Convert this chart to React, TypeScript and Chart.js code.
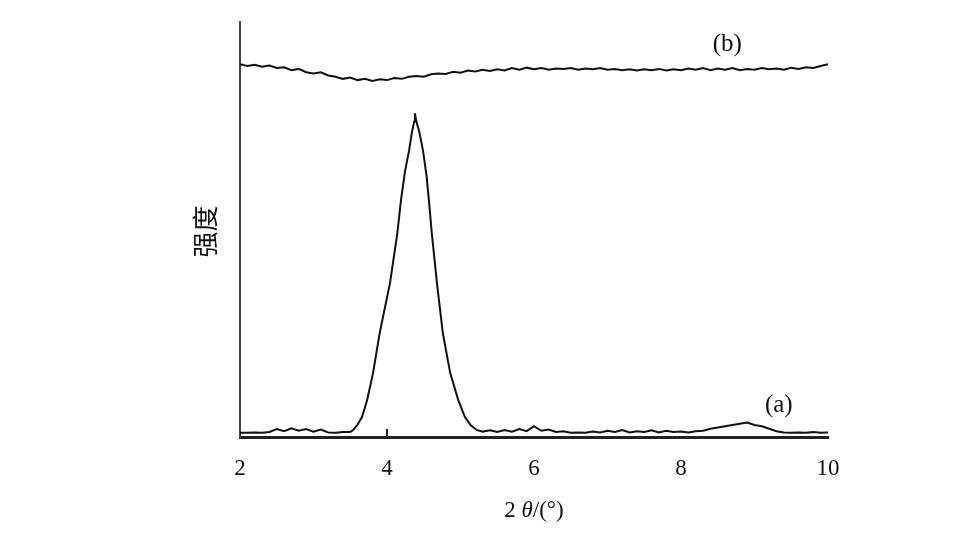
import React, { useEffect, useRef } from "react";
import { Chart, registerables } from "chart.js";

Chart.register(...registerables);

// Curve (a): x positions (2θ, degrees) and intensity
const xA = [
  2.0, 2.1, 2.2, 2.3, 2.4, 2.5, 2.6, 2.7, 2.8, 2.9,
  3.0, 3.1, 3.2, 3.3, 3.4, 3.5, 3.54, 3.6, 3.66, 3.73,
  3.81, 3.9, 4.04, 4.14, 4.19, 4.245, 4.3, 4.34, 4.37, 4.38,
  4.4, 4.44, 4.49, 4.54, 4.57, 4.61, 4.68, 4.76, 4.86, 4.97,
  5.06, 5.14, 5.22, 5.3, 5.4, 5.5, 5.6,
  5.7, 5.8, 5.9, 6.0, 6.1, 6.2, 6.3, 6.4, 6.5, 6.6,
  6.7, 6.8, 6.9, 7.0, 7.1, 7.2, 7.3, 7.4, 7.5, 7.6,
  7.7, 7.8, 7.9, 8.0, 8.1, 8.2, 8.3, 8.4, 8.5, 8.6,
  8.7, 8.8, 8.9, 9.0, 9.1, 9.2, 9.3, 9.4, 9.5, 9.6,
  9.7, 9.8, 9.9, 10.0,
];
const yA = [
  1.0, 1.0, 1.1, 1.0, 1.2, 1.9, 1.4, 2.1, 1.5, 1.9,
  1.3, 1.8, 1.1, 1.0, 1.2, 1.2, 1.7, 3.0, 4.8, 8.9,
  15.4, 25, 37, 49, 57, 64, 69, 73.5, 76, 78,
  76, 73.5, 69, 62.7, 57, 49, 37, 25, 15.4, 8.9,
  4.8, 2.8, 1.7, 1.3, 1.6, 1.2, 1.7,
  1.3, 1.9, 1.4, 2.6, 1.5, 1.8, 1.2, 1.4, 1.0, 1.1,
  1.0, 1.3, 1.1, 1.5, 1.2, 1.7, 1.1, 1.4, 1.2, 1.6,
  1.1, 1.5, 1.2, 1.3, 1.1, 1.4, 1.5, 2.0, 2.3, 2.6,
  2.9, 3.2, 3.5, 2.9, 2.6, 2.0, 1.4, 1.1, 1.0, 1.1,
  1.0, 1.2, 1.0, 1.1,
];

// Curve (b)
const xB = [
  2.0, 2.1, 2.2, 2.3, 2.4, 2.5, 2.6, 2.7, 2.8, 2.9,
  3.0, 3.1, 3.2, 3.3, 3.4, 3.5, 3.6, 3.7, 3.8, 3.9,
  4.0, 4.1, 4.2, 4.3, 4.4, 4.5, 4.6, 4.7, 4.8, 4.9,
  5.0, 5.1, 5.2, 5.3, 5.4, 5.5, 5.6, 5.7, 5.8, 5.9,
  6.0, 6.1, 6.2, 6.3, 6.4, 6.5, 6.6, 6.7, 6.8, 6.9,
  7.0, 7.1, 7.2, 7.3, 7.4, 7.5, 7.6, 7.7, 7.8, 7.9,
  8.0, 8.1, 8.2, 8.3, 8.4, 8.5, 8.6, 8.7, 8.8, 8.9,
  9.0, 9.1, 9.2, 9.3, 9.4, 9.5, 9.6, 9.7, 9.8, 9.9,
  10.0,
];
const yB = [
  89.8, 89.4, 89.7, 89.2, 89.5, 88.9, 89.1, 88.4, 88.7, 87.9,
  87.6, 87.9, 87.1, 86.8, 86.3, 86.6, 86.0, 86.3, 85.8, 86.2,
  86.0, 86.5, 86.3, 86.8, 87.0, 86.8, 87.4, 87.6, 87.5, 88.0,
  87.8, 88.3, 88.1, 88.5, 88.2, 88.6, 88.3, 88.9, 88.5, 89.0,
  88.6, 88.9, 88.5, 88.8, 88.7, 88.9, 88.5, 88.8, 88.6, 88.9,
  88.5, 88.7, 88.4, 88.6, 88.3, 88.6, 88.4, 88.7, 88.3, 88.6,
  88.4, 88.8, 88.5, 88.9, 88.4, 88.8, 88.5, 88.9, 88.4, 88.7,
  88.5, 88.9, 88.6, 88.8, 88.5, 89.0, 88.7, 89.1, 88.9, 89.4,
  89.8,
];

const xTicks = [2, 4, 6, 8, 10];
const innerTickMarks = [4];
const xTitle = ["2 ", "θ", "/(°)"];
const yTitle = "强度";
const curveLabels = [
  { text: "(a)", x: 9.33, y: 7.5 },
  { text: "(b)", x: 8.63, y: 94.5 },
];

const SERIF = '"Liberation Serif", "Times New Roman", serif';

const textPlugin = {
  id: "customText",
  afterDraw(chart: any) {
    const ctx = chart.ctx;
    const xs = chart.scales.x;
    const ys = chart.scales.y;
    const area = chart.chartArea;
    ctx.save();
    // inner tick marks on x axis
    ctx.strokeStyle = "#222";
    ctx.lineWidth = 2;
    innerTickMarks.forEach((v) => {
      const px = Math.round(xs.getPixelForValue(v));
      ctx.beginPath();
      ctx.moveTo(px, area.bottom);
      ctx.lineTo(px, area.bottom - 8);
      ctx.stroke();
    });
    ctx.fillStyle = "#111";
    // curve labels
    ctx.font = `25px ${SERIF}`;
    ctx.textAlign = "center";
    ctx.textBaseline = "middle";
    curveLabels.forEach((l) => {
      ctx.fillText(l.text, xs.getPixelForValue(l.x), ys.getPixelForValue(l.y));
    });
    // x axis title with italic theta
    const cx = (area.left + area.right) / 2;
    const ty = 511;
    const fontN = `23px ${SERIF}`;
    const fontI = `italic 23px ${SERIF}`;
    ctx.font = fontN;
    const w0 = ctx.measureText(xTitle[0]).width;
    const w2 = ctx.measureText(xTitle[2]).width;
    ctx.font = fontI;
    const w1 = ctx.measureText(xTitle[1]).width;
    let sx = cx - (w0 + w1 + w2) / 2;
    ctx.textAlign = "left";
    ctx.font = fontN;
    ctx.fillText(xTitle[0], sx, ty);
    sx += w0;
    ctx.font = fontI;
    ctx.fillText(xTitle[1], sx, ty);
    sx += w1;
    ctx.font = fontN;
    ctx.fillText(xTitle[2], sx, ty);
    // y axis title
    ctx.translate(205, (area.top + area.bottom) / 2 + 2);
    ctx.rotate(-Math.PI / 2);
    ctx.textAlign = "center";
    ctx.font = `26px "Noto Sans CJK SC", sans-serif`;
    ctx.fillText(yTitle, 0, 0);
    ctx.restore();
  },
};

export default function App() {
  const ref = useRef<HTMLCanvasElement | null>(null);
  useEffect(() => {
    if (!ref.current) return;
    const chart = new Chart(ref.current, {
      type: "line",
      data: {
        datasets: [
          {
            label: "(a)",
            data: xA.map((x, i) => ({ x, y: yA[i] })),
            borderColor: "#111",
            borderWidth: 2,
            pointRadius: 0,
            tension: 0,
            fill: false,
          },
          {
            label: "(b)",
            data: xB.map((x, i) => ({ x, y: yB[i] })),
            borderColor: "#111",
            borderWidth: 2,
            pointRadius: 0,
            tension: 0,
            fill: false,
          },
        ],
      },
      options: {
        animation: false,
        responsive: true,
        maintainAspectRatio: false,
        layout: { padding: { left: 200, right: 149, top: 22, bottom: 41 } },
        plugins: { legend: { display: false }, tooltip: { enabled: false } },
        scales: {
          x: {
            type: "linear",
            min: 2,
            max: 10,
            afterBuildTicks: (scale: any) => {
              scale.ticks = xTicks.map((v) => ({ value: v }));
            },
            afterFit: (scale: any) => {
              scale.height = 60;
            },
            grid: { display: false },
            border: { display: true, color: "#222", width: 3 },
            ticks: {
              color: "#111",
              padding: 10,
              maxRotation: 0,
              font: { family: SERIF, size: 23 },
            },
          },
          y: {
            min: 0,
            max: 100,
            afterFit: (scale: any) => {
              scale.width = 40;
            },
            grid: { display: false },
            border: { display: true, color: "#444", width: 2 },
            ticks: { display: false },
          },
        },
      },
      plugins: [textPlugin],
    });
    return () => chart.destroy();
  }, []);
  return (
    <div style={{ position: "fixed", left: 0, top: 0, width: 977, height: 538, background: "#fff" }}>
      <canvas ref={ref} />
    </div>
  );
}
